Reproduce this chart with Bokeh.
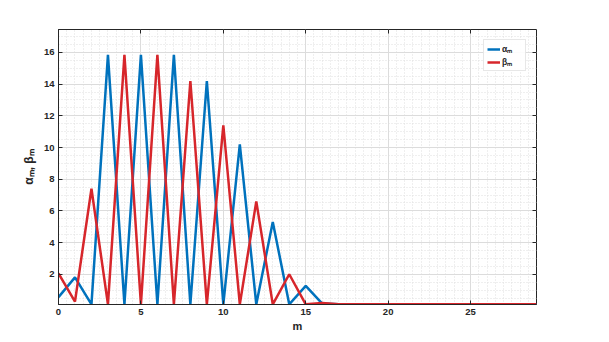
from bokeh.plotting import figure
from bokeh.models import (Range1d, SingleIntervalTicker, LinearAxis, Legend, LegendItem,
                          CustomJSTickFormatter)
from bokeh.embed import file_html
from bokeh.resources import INLINE

m = list(range(30))
alpha = [0.55, 1.8, 0.1, 15.85, 0.1, 15.85, 0.1, 15.85, 0.1, 14.2, 0.1, 10.2, 0.1, 5.3, 0.1, 1.27, 0.15,
         0.1, 0.1, 0.1, 0.1, 0.1, 0.1, 0.1, 0.1, 0.1, 0.1, 0.1, 0.1, 0.1]
beta = [2.05, 0.27, 7.4, 0.1, 15.85, 0.1, 15.85, 0.1, 14.2, 0.1, 11.4, 0.1, 6.6, 0.1, 2.0, 0.1, 0.18,
        0.1, 0.1, 0.1, 0.1, 0.1, 0.1, 0.1, 0.1, 0.1, 0.1, 0.1, 0.1, 0.1]
x_label = "m"
y_label = "αₘ, βₘ"
names = ["αₘ", "βₘ"]
colors = ["#0072BD", "#D7262B"]

FONT = "Liberation Sans"
TXT = "#262626"

p = figure(width=593, height=334, output_backend="svg", toolbar_location=None,
           x_range=Range1d(0, 29), y_range=Range1d(0.09, 17.45),
           min_border_left=58, min_border_right=57, min_border_top=29, min_border_bottom=30,
           background_fill_color="white", border_fill_color="white")
p.outline_line_color = TXT
p.outline_line_width = 1

xt = SingleIntervalTicker(interval=5, num_minor_ticks=10)
yt = SingleIntervalTicker(interval=2, num_minor_ticks=4)
p.xaxis.ticker = xt
p.yaxis.ticker = yt

for ax in [p.xaxis[0], p.yaxis[0]]:
    ax.major_tick_in = 4
    ax.major_tick_out = 0
    ax.minor_tick_in = 0
    ax.minor_tick_out = 0
    ax.axis_line_color = TXT
    ax.major_tick_line_color = TXT
    ax.major_label_text_font = FONT
    ax.major_label_text_font_style = "bold"
    ax.major_label_text_font_size = "9.5px"
    ax.major_label_text_color = TXT
    ax.axis_label_text_font = FONT
    ax.axis_label_text_font_style = "bold"
    ax.axis_label_text_font_size = "11px"
    ax.axis_label_text_color = TXT
p.xaxis.major_label_standoff = 4
p.xaxis.axis_label_standoff = 2
p.yaxis.major_label_standoff = 4
p.yaxis.axis_label_standoff = 5
p.yaxis.axis_label_text_font_size = "12px"
p.xaxis.axis_label = x_label
p.yaxis.axis_label = y_label

for loc, tk in [("above", xt), ("right", yt)]:
    a = LinearAxis(ticker=tk, formatter=CustomJSTickFormatter(code="return ''"))
    a.major_tick_in = 4
    a.major_tick_out = 0
    a.minor_tick_in = 0
    a.minor_tick_out = 0
    a.axis_line_color = None
    a.major_tick_line_color = TXT
    a.major_label_standoff = 0
    p.add_layout(a, loc)

p.xgrid.grid_line_color = "#dcdcdc"
p.ygrid.grid_line_color = "#dcdcdc"
p.xgrid.minor_grid_line_color = "#dedede"
p.ygrid.minor_grid_line_color = "#dedede"
p.xgrid.minor_grid_line_dash = "1 2"
p.ygrid.minor_grid_line_dash = "1 2"

r1 = p.line(m, alpha, line_color=colors[0], line_width=2.5)
r2 = p.line(m, beta, line_color=colors[1], line_width=2.5)

leg = Legend(items=[LegendItem(label=names[0], renderers=[r1]),
                    LegendItem(label=names[1], renderers=[r2])],
             location="top_right")
leg.label_text_font = FONT
leg.label_text_font_size = "8.5px"
leg.label_text_font_style = "bold"
leg.label_text_color = TXT
leg.glyph_width = 13
leg.glyph_height = 8
leg.label_standoff = 2
leg.spacing = 2
leg.padding = 3
leg.margin = 10
leg.label_height = 8
leg.border_line_color = "#d0d0d0"
leg.background_fill_alpha = 0.9
p.add_layout(leg)

open("out.html", "w").write(file_html(p, INLINE))
